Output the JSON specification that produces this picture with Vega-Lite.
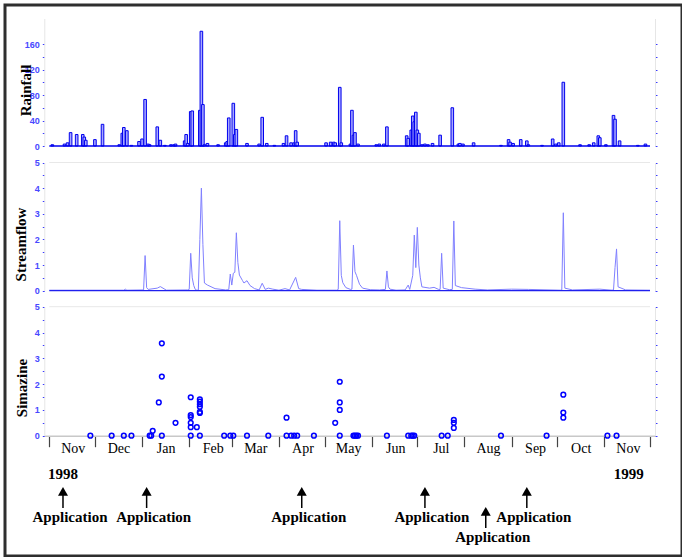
{
  "$schema": "https://vega.github.io/schema/vega-lite/v6.json",
  "width": 677,
  "height": 551,
  "autosize": {"type": "none"},
  "padding": {"left": 5, "top": 5, "right": 0, "bottom": 1},
  "background": "white",
  "config": {
    "view": {"stroke": "#2e2e2e", "strokeWidth": 3},
    "axis": {"grid": false, "labelFlush": false, "labelOverlap": false}
  },
  "datasets": {
    "span": [{"date": "1998-11-01", "date2": "1999-12-01"}],
    "rain": [
      {"date": "1998-11-03", "rain": 2}, {"date": "1998-11-11", "rain": 3}, {"date": "1998-11-13", "rain": 5},
      {"date": "1998-11-15", "rain": 21}, {"date": "1998-11-19", "rain": 18}, {"date": "1998-11-23", "rain": 18},
      {"date": "1998-11-24", "rain": 14}, {"date": "1998-11-25", "rain": 9}, {"date": "1998-12-01", "rain": 10},
      {"date": "1998-12-06", "rain": 34}, {"date": "1998-12-17", "rain": 2}, {"date": "1998-12-19", "rain": 20},
      {"date": "1998-12-20", "rain": 29}, {"date": "1998-12-22", "rain": 24}, {"date": "1998-12-25", "rain": 1},
      {"date": "1998-12-30", "rain": 7}, {"date": "1999-01-01", "rain": 11}, {"date": "1999-01-03", "rain": 73},
      {"date": "1999-01-05", "rain": 3}, {"date": "1999-01-06", "rain": 2}, {"date": "1999-01-11", "rain": 30},
      {"date": "1999-01-13", "rain": 9}, {"date": "1999-01-16", "rain": 1}, {"date": "1999-01-20", "rain": 2},
      {"date": "1999-01-22", "rain": 2}, {"date": "1999-01-23", "rain": 3}, {"date": "1999-01-29", "rain": 8},
      {"date": "1999-01-30", "rain": 18}, {"date": "1999-01-31", "rain": 4}, {"date": "1999-02-02", "rain": 54},
      {"date": "1999-02-03", "rain": 55}, {"date": "1999-02-08", "rain": 56}, {"date": "1999-02-09", "rain": 180},
      {"date": "1999-02-10", "rain": 65}, {"date": "1999-02-11", "rain": 2}, {"date": "1999-02-13", "rain": 4},
      {"date": "1999-02-20", "rain": 2}, {"date": "1999-02-25", "rain": 5}, {"date": "1999-02-26", "rain": 7},
      {"date": "1999-02-27", "rain": 44}, {"date": "1999-03-02", "rain": 67}, {"date": "1999-03-03", "rain": 18},
      {"date": "1999-03-04", "rain": 26}, {"date": "1999-03-11", "rain": 4}, {"date": "1999-03-19", "rain": 3},
      {"date": "1999-03-21", "rain": 45}, {"date": "1999-03-24", "rain": 4}, {"date": "1999-03-29", "rain": 1},
      {"date": "1999-04-04", "rain": 4}, {"date": "1999-04-06", "rain": 16}, {"date": "1999-04-09", "rain": 5},
      {"date": "1999-04-11", "rain": 5}, {"date": "1999-04-12", "rain": 24}, {"date": "1999-04-13", "rain": 6},
      {"date": "1999-05-02", "rain": 5}, {"date": "1999-05-05", "rain": 6}, {"date": "1999-05-07", "rain": 6},
      {"date": "1999-05-08", "rain": 5}, {"date": "1999-05-11", "rain": 92}, {"date": "1999-05-12", "rain": 5},
      {"date": "1999-05-18", "rain": 3}, {"date": "1999-05-19", "rain": 56}, {"date": "1999-05-20", "rain": 17},
      {"date": "1999-05-21", "rain": 21}, {"date": "1999-05-23", "rain": 3}, {"date": "1999-06-04", "rain": 2},
      {"date": "1999-06-06", "rain": 3}, {"date": "1999-06-09", "rain": 3}, {"date": "1999-06-11", "rain": 30},
      {"date": "1999-06-24", "rain": 16}, {"date": "1999-06-25", "rain": 12}, {"date": "1999-06-27", "rain": 25},
      {"date": "1999-06-28", "rain": 47}, {"date": "1999-06-29", "rain": 38}, {"date": "1999-06-30", "rain": 53},
      {"date": "1999-07-01", "rain": 25}, {"date": "1999-07-02", "rain": 20}, {"date": "1999-07-04", "rain": 2},
      {"date": "1999-07-06", "rain": 3}, {"date": "1999-07-08", "rain": 2}, {"date": "1999-07-11", "rain": 4},
      {"date": "1999-07-16", "rain": 17}, {"date": "1999-07-24", "rain": 60}, {"date": "1999-07-28", "rain": 3},
      {"date": "1999-07-29", "rain": 4}, {"date": "1999-07-31", "rain": 3}, {"date": "1999-08-07", "rain": 5},
      {"date": "1999-08-25", "rain": 1}, {"date": "1999-08-30", "rain": 10}, {"date": "1999-08-31", "rain": 6},
      {"date": "1999-09-02", "rain": 4}, {"date": "1999-09-07", "rain": 10}, {"date": "1999-09-11", "rain": 8},
      {"date": "1999-09-12", "rain": 2}, {"date": "1999-09-21", "rain": 1}, {"date": "1999-09-28", "rain": 11},
      {"date": "1999-09-30", "rain": 3}, {"date": "1999-10-02", "rain": 5}, {"date": "1999-10-05", "rain": 100},
      {"date": "1999-10-16", "rain": 2}, {"date": "1999-10-22", "rain": 2}, {"date": "1999-10-25", "rain": 5},
      {"date": "1999-10-28", "rain": 16}, {"date": "1999-10-29", "rain": 13}, {"date": "1999-11-02", "rain": 2},
      {"date": "1999-11-07", "rain": 48}, {"date": "1999-11-08", "rain": 42}, {"date": "1999-11-11", "rain": 8},
      {"date": "1999-11-23", "rain": 1}, {"date": "1999-11-28", "rain": 3}
    ],
    "flow": [
      {"date": "1998-11-01", "flow": 0.02}, {"date": "1998-12-20", "flow": 0.02}, {"date": "1998-12-21", "flow": 0.06},
      {"date": "1998-12-22", "flow": 0.02}, {"date": "1999-01-02", "flow": 0.03}, {"date": "1999-01-03", "flow": 1.37},
      {"date": "1999-01-04", "flow": 0.12}, {"date": "1999-01-05", "flow": 0.05}, {"date": "1999-01-11", "flow": 0.1},
      {"date": "1999-01-13", "flow": 0.16}, {"date": "1999-01-17", "flow": 0.02}, {"date": "1999-01-31", "flow": 0.03},
      {"date": "1999-02-01", "flow": 0.05}, {"date": "1999-02-02", "flow": 1.46}, {"date": "1999-02-03", "flow": 0.5},
      {"date": "1999-02-04", "flow": 0.2}, {"date": "1999-02-05", "flow": 0.05}, {"date": "1999-02-06", "flow": 0.02},
      {"date": "1999-02-07", "flow": 0.02}, {"date": "1999-02-08", "flow": 2.0}, {"date": "1999-02-09", "flow": 4.0},
      {"date": "1999-02-10", "flow": 1.8}, {"date": "1999-02-11", "flow": 0.3}, {"date": "1999-02-13", "flow": 0.22},
      {"date": "1999-02-18", "flow": 0.08}, {"date": "1999-02-25", "flow": 0.03}, {"date": "1999-02-27", "flow": 0.04},
      {"date": "1999-02-28", "flow": 0.65}, {"date": "1999-03-01", "flow": 0.22}, {"date": "1999-03-02", "flow": 0.68},
      {"date": "1999-03-03", "flow": 0.72}, {"date": "1999-03-04", "flow": 2.26}, {"date": "1999-03-05", "flow": 1.1},
      {"date": "1999-03-06", "flow": 0.61}, {"date": "1999-03-08", "flow": 0.4}, {"date": "1999-03-09", "flow": 0.3},
      {"date": "1999-03-11", "flow": 0.39}, {"date": "1999-03-13", "flow": 0.2}, {"date": "1999-03-16", "flow": 0.08},
      {"date": "1999-03-19", "flow": 0.03}, {"date": "1999-03-21", "flow": 0.29}, {"date": "1999-03-23", "flow": 0.05},
      {"date": "1999-03-25", "flow": 0.1}, {"date": "1999-03-28", "flow": 0.06}, {"date": "1999-04-01", "flow": 0.02},
      {"date": "1999-04-05", "flow": 0.08}, {"date": "1999-04-08", "flow": 0.03}, {"date": "1999-04-12", "flow": 0.52},
      {"date": "1999-04-14", "flow": 0.08}, {"date": "1999-04-16", "flow": 0.05}, {"date": "1999-04-26", "flow": 0.02},
      {"date": "1999-05-09", "flow": 0.02}, {"date": "1999-05-10", "flow": 0.05}, {"date": "1999-05-11", "flow": 2.73},
      {"date": "1999-05-12", "flow": 0.6}, {"date": "1999-05-13", "flow": 0.31}, {"date": "1999-05-15", "flow": 0.12},
      {"date": "1999-05-18", "flow": 0.05}, {"date": "1999-05-19", "flow": 0.06}, {"date": "1999-05-20", "flow": 1.78},
      {"date": "1999-05-21", "flow": 0.74}, {"date": "1999-05-22", "flow": 0.6}, {"date": "1999-05-24", "flow": 0.25},
      {"date": "1999-05-26", "flow": 0.1}, {"date": "1999-05-31", "flow": 0.04}, {"date": "1999-06-06", "flow": 0.03},
      {"date": "1999-06-10", "flow": 0.05}, {"date": "1999-06-11", "flow": 0.77}, {"date": "1999-06-12", "flow": 0.15},
      {"date": "1999-06-13", "flow": 0.06}, {"date": "1999-06-17", "flow": 0.02}, {"date": "1999-06-23", "flow": 0.03},
      {"date": "1999-06-25", "flow": 0.22}, {"date": "1999-06-26", "flow": 0.05}, {"date": "1999-06-28", "flow": 0.6},
      {"date": "1999-06-29", "flow": 2.17}, {"date": "1999-06-30", "flow": 0.9}, {"date": "1999-07-01", "flow": 2.47},
      {"date": "1999-07-02", "flow": 1.0}, {"date": "1999-07-03", "flow": 0.5}, {"date": "1999-07-04", "flow": 0.15},
      {"date": "1999-07-09", "flow": 0.1}, {"date": "1999-07-12", "flow": 0.13}, {"date": "1999-07-15", "flow": 0.05},
      {"date": "1999-07-16", "flow": 0.05}, {"date": "1999-07-17", "flow": 1.46}, {"date": "1999-07-18", "flow": 0.1},
      {"date": "1999-07-22", "flow": 0.04}, {"date": "1999-07-24", "flow": 0.05}, {"date": "1999-07-25", "flow": 2.72},
      {"date": "1999-07-26", "flow": 0.2}, {"date": "1999-07-30", "flow": 0.12}, {"date": "1999-08-08", "flow": 0.06},
      {"date": "1999-08-16", "flow": 0.03}, {"date": "1999-09-01", "flow": 0.06}, {"date": "1999-09-12", "flow": 0.05},
      {"date": "1999-10-03", "flow": 0.02}, {"date": "1999-10-04", "flow": 0.03}, {"date": "1999-10-05", "flow": 3.04},
      {"date": "1999-10-06", "flow": 0.1}, {"date": "1999-10-11", "flow": 0.03}, {"date": "1999-10-29", "flow": 0.06},
      {"date": "1999-11-06", "flow": 0.02}, {"date": "1999-11-07", "flow": 0.03}, {"date": "1999-11-08", "flow": 0.9},
      {"date": "1999-11-09", "flow": 1.63}, {"date": "1999-11-10", "flow": 0.15}, {"date": "1999-11-15", "flow": 0.03},
      {"date": "1999-12-01", "flow": 0.02}
    ],
    "sim": [
      {"date": "1998-11-28", "simazine": 0}, {"date": "1998-12-12", "simazine": 0}, {"date": "1998-12-20", "simazine": 0},
      {"date": "1998-12-25", "simazine": 0}, {"date": "1999-01-06", "simazine": 0}, {"date": "1999-01-07", "simazine": 0},
      {"date": "1999-01-08", "simazine": 0.19}, {"date": "1999-01-12", "simazine": 1.29}, {"date": "1999-01-14", "simazine": 3.58},
      {"date": "1999-01-14", "simazine": 2.29}, {"date": "1999-01-14", "simazine": 0}, {"date": "1999-01-23", "simazine": 0.5},
      {"date": "1999-02-02", "simazine": 1.49}, {"date": "1999-02-02", "simazine": 0.8}, {"date": "1999-02-02", "simazine": 0.72},
      {"date": "1999-02-02", "simazine": 0.5}, {"date": "1999-02-02", "simazine": 0.33}, {"date": "1999-02-02", "simazine": 0},
      {"date": "1999-02-06", "simazine": 0.33}, {"date": "1999-02-08", "simazine": 1.41}, {"date": "1999-02-08", "simazine": 1.32},
      {"date": "1999-02-08", "simazine": 1.22}, {"date": "1999-02-08", "simazine": 1.12}, {"date": "1999-02-08", "simazine": 0.92},
      {"date": "1999-02-08", "simazine": 0.88}, {"date": "1999-02-08", "simazine": 0}, {"date": "1999-02-24", "simazine": 0},
      {"date": "1999-02-28", "simazine": 0}, {"date": "1999-03-02", "simazine": 0}, {"date": "1999-03-11", "simazine": 0},
      {"date": "1999-03-25", "simazine": 0}, {"date": "1999-04-06", "simazine": 0.7}, {"date": "1999-04-06", "simazine": 0},
      {"date": "1999-04-09", "simazine": 0}, {"date": "1999-04-11", "simazine": 0}, {"date": "1999-04-13", "simazine": 0},
      {"date": "1999-04-24", "simazine": 0}, {"date": "1999-05-08", "simazine": 0.5}, {"date": "1999-05-11", "simazine": 2.09},
      {"date": "1999-05-11", "simazine": 1.29}, {"date": "1999-05-11", "simazine": 1.0}, {"date": "1999-05-11", "simazine": 0},
      {"date": "1999-05-20", "simazine": 0}, {"date": "1999-05-21", "simazine": 0}, {"date": "1999-05-22", "simazine": 0},
      {"date": "1999-05-23", "simazine": 0}, {"date": "1999-06-11", "simazine": 0}, {"date": "1999-06-25", "simazine": 0},
      {"date": "1999-06-27", "simazine": 0}, {"date": "1999-06-28", "simazine": 0}, {"date": "1999-06-29", "simazine": 0},
      {"date": "1999-07-17", "simazine": 0}, {"date": "1999-07-21", "simazine": 0}, {"date": "1999-07-25", "simazine": 0.61},
      {"date": "1999-07-25", "simazine": 0.5}, {"date": "1999-07-25", "simazine": 0.3}, {"date": "1999-08-25", "simazine": 0},
      {"date": "1999-09-24", "simazine": 0}, {"date": "1999-10-05", "simazine": 1.59}, {"date": "1999-10-05", "simazine": 0.9},
      {"date": "1999-10-05", "simazine": 0.7}, {"date": "1999-11-03", "simazine": 0}, {"date": "1999-11-09", "simazine": 0}
    ],
    "apps": [
      {"date": "1998-11-10", "label": "Application", "tier": 0},
      {"date": "1999-01-04", "label": "Application", "tier": 0},
      {"date": "1999-04-16", "label": "Application", "tier": 0},
      {"date": "1999-07-06", "label": "Application", "tier": 0},
      {"date": "1999-08-15", "label": "Application", "tier": 1},
      {"date": "1999-09-11", "label": "Application", "tier": 0}
    ],
    "years": [
      {"date": "1998-11-10", "label": "1998", "tier": 0},
      {"date": "1999-11-17", "label": "1999", "tier": 0}
    ]
  },
  "encoding": {
    "x": {
      "field": "date",
      "type": "temporal",
      "scale": {
        "type": "utc",
        "domain": [{"year": 1998, "month": 11, "date": 1, "utc": true}, {"year": 1999, "month": 12, "date": 1, "utc": true}],
        "range": [39.3, 650],
        "nice": false
      },
      "axis": {
        "orient": "bottom",
        "offset": -120.3,
        "title": null,
        "values": [
          {"year": 1998, "month": 11, "date": 1, "utc": true}, {"year": 1998, "month": 12, "date": 1, "utc": true},
          {"year": 1999, "month": 1, "date": 1, "utc": true}, {"year": 1999, "month": 2, "date": 1, "utc": true},
          {"year": 1999, "month": 3, "date": 1, "utc": true}, {"year": 1999, "month": 4, "date": 1, "utc": true},
          {"year": 1999, "month": 5, "date": 1, "utc": true}, {"year": 1999, "month": 6, "date": 1, "utc": true},
          {"year": 1999, "month": 7, "date": 1, "utc": true}, {"year": 1999, "month": 8, "date": 1, "utc": true},
          {"year": 1999, "month": 9, "date": 1, "utc": true}, {"year": 1999, "month": 10, "date": 1, "utc": true},
          {"year": 1999, "month": 11, "date": 1, "utc": true}, {"year": 1999, "month": 12, "date": 1, "utc": true}
        ],
        "labelExpr": "(utcmonth(datum.value) == 11 && utcyear(datum.value) == 1999) ? '' : utcFormat(datum.value, '%b')",
        "labelOffset": 23.5,
        "labelFont": "Liberation Serif",
        "labelFontSize": 14,
        "labelColor": "#000000",
        "labelPadding": -5,
        "tickSize": 11,
        "tickColor": "#444444",
        "tickWidth": 1.2,
        "domainColor": "#c8c8c8",
        "domainWidth": 1.5
      }
    }
  },
  "layer": [
    {
      "layer": [
        {
          "data": {"name": "rain"},
          "mark": {"type": "bar", "size": 2.6, "fill": "#a8a8ff", "stroke": "#0000ee", "strokeWidth": 1},
          "encoding": {
            "y": {
              "field": "rain", "type": "quantitative",
              "scale": {"domain": [0, 200], "range": [141, 13.5], "nice": false},
              "axis": {
                "orient": "left", "offset": -39.3, "title": "Rainfall",
                "titleFont": "Liberation Serif", "titleFontSize": 15, "titleFontWeight": "bold", "titleColor": "#000000",
                "titleX": -19.3, "titleY": 85, "titleBaseline": "middle", "titleAngle": -90,
                "values": [0, 20, 40, 60, 80, 100, 120, 140, 160],
                "labelExpr": "datum.value % 40 == 0 ? format(datum.value, 'd') : ''",
                "labelFont": "Liberation Sans", "labelFontSize": 9, "labelFontWeight": "bold", "labelColor": "#4848ff", "labelPadding": 3,
                "tickSize": 2, "tickColor": "#3a3aff", "domainColor": "#e6e6e6"
              }
            }
          }
        },
        {
          "data": {"name": "span"},
          "mark": {"type": "rule", "color": "#0000ee", "strokeWidth": 1.5},
          "encoding": {
            "x2": {"field": "date2"},
            "y": {
              "datum": 0, "type": "quantitative",
              "scale": {"domain": [0, 200], "range": [141, 13.5], "nice": false},
              "axis": {
                "orient": "right", "offset": -27, "title": null, "labels": false,
                "values": [0, 20, 40, 60, 80, 100, 120, 140, 160],
                "tickSize": 2, "tickColor": "#3a3aff", "domainColor": "#e6e6e6"
              }
            }
          }
        }
      ],
      "resolve": {"scale": {"y": "shared"}, "axis": {"y": "independent"}}
    },
    {
      "layer": [
        {
          "data": {"name": "flow"},
          "mark": {"type": "line", "color": "#8080ff", "strokeWidth": 1},
          "encoding": {
            "y": {
              "field": "flow", "type": "quantitative",
              "scale": {"domain": [0, 5], "range": [285.7, 157.5], "nice": false},
              "axis": {
                "orient": "left", "offset": -39.3, "title": "Streamflow",
                "titleFont": "Liberation Serif", "titleFontSize": 15, "titleFontWeight": "bold", "titleColor": "#000000",
                "titleX": -24.3, "titleY": 239, "titleBaseline": "middle", "titleAngle": -90,
                "values": [0, 0.5, 1, 1.5, 2, 2.5, 3, 3.5, 4, 4.5, 5],
                "labelExpr": "datum.value % 1 == 0 ? format(datum.value, 'd') : ''",
                "labelFont": "Liberation Sans", "labelFontSize": 9, "labelFontWeight": "bold", "labelColor": "#4848ff", "labelPadding": 3,
                "tickSize": 2, "tickColor": "#3a3aff", "domainColor": "#e6e6e6"
              }
            }
          }
        },
        {
          "data": {"name": "span"},
          "mark": {"type": "rule", "color": "#2020ee", "strokeWidth": 1.2},
          "encoding": {
            "x2": {"field": "date2"},
            "y": {
              "datum": 0, "type": "quantitative",
              "scale": {"domain": [0, 5], "range": [285.7, 157.5], "nice": false},
              "axis": {
                "orient": "right", "offset": -27, "title": null, "labels": false,
                "values": [0, 0.5, 1, 1.5, 2, 2.5, 3, 3.5, 4, 4.5, 5],
                "tickSize": 2, "tickColor": "#3a3aff", "domainColor": "#e6e6e6"
              }
            }
          }
        },
        {
          "data": {"name": "span"},
          "mark": {"type": "rule", "color": "#e8e8e8", "strokeWidth": 1},
          "encoding": {
            "x2": {"field": "date2"},
            "y": {"datum": 5, "type": "quantitative", "scale": {"domain": [0, 5], "range": [285.7, 157.5], "nice": false}, "axis": null}
          }
        }
      ],
      "resolve": {"scale": {"y": "shared"}, "axis": {"y": "independent"}}
    },
    {
      "layer": [
        {
          "data": {"name": "span"},
          "mark": {"type": "rule", "color": "#e8e8e8", "strokeWidth": 1},
          "encoding": {
            "x2": {"field": "date2"},
            "y": {
              "datum": 5, "type": "quantitative",
              "scale": {"domain": [0, 5], "range": [430.7, 301.7], "nice": false},
              "axis": {
                "orient": "right", "offset": -27, "title": null, "labels": false,
                "values": [0, 0.5, 1, 1.5, 2, 2.5, 3, 3.5, 4, 4.5, 5],
                "tickSize": 2, "tickColor": "#3a3aff", "domainColor": "#e6e6e6"
              }
            }
          }
        },
        {
          "data": {"name": "sim"},
          "mark": {"type": "point", "filled": false, "color": "#0000ff", "size": 22, "strokeWidth": 1.5, "opacity": 1},
          "encoding": {
            "y": {
              "field": "simazine", "type": "quantitative",
              "scale": {"domain": [0, 5], "range": [430.7, 301.7], "nice": false},
              "axis": {
                "orient": "left", "offset": -39.3, "title": "Simazine",
                "titleFont": "Liberation Serif", "titleFontSize": 15, "titleFontWeight": "bold", "titleColor": "#000000",
                "titleX": -23.3, "titleY": 382.5, "titleBaseline": "middle", "titleAngle": -90,
                "values": [0, 0.5, 1, 1.5, 2, 2.5, 3, 3.5, 4, 4.5, 5],
                "labelExpr": "datum.value % 1 == 0 ? format(datum.value, 'd') : ''",
                "labelFont": "Liberation Sans", "labelFontSize": 9, "labelFontWeight": "bold", "labelColor": "#4848ff", "labelPadding": 3,
                "tickSize": 2, "tickColor": "#3a3aff", "domainColor": "#e6e6e6"
              }
            }
          }
        }
      ],
      "resolve": {"scale": {"y": "shared"}, "axis": {"y": "independent"}}
    },
    {
      "layer": [
        {
          "data": {"name": "apps"},
          "mark": {"type": "point", "shape": "triangle-up", "filled": true, "color": "#000000", "size": 100, "yOffset": 4.3, "opacity": 1},
          "encoding": {
            "y": {"field": "tier", "type": "quantitative", "scale": {"domain": [0, 1], "range": [482, 502], "nice": false, "zero": false}, "axis": null}
          }
        },
        {
          "data": {"name": "apps"},
          "mark": {"type": "rule", "color": "#000000", "strokeWidth": 1.5, "yOffset": 8, "y2Offset": 21},
          "encoding": {
            "y": {"field": "tier", "type": "quantitative", "scale": {"domain": [0, 1], "range": [482, 502], "nice": false, "zero": false}, "axis": null},
            "y2": {"field": "tier"}
          }
        },
        {
          "data": {"name": "apps"},
          "mark": {"type": "text", "font": "Liberation Serif", "fontSize": 15, "fontWeight": "bold", "color": "#000000", "baseline": "alphabetic", "align": "center", "dx": 7, "dy": 35},
          "encoding": {
            "y": {"field": "tier", "type": "quantitative", "scale": {"domain": [0, 1], "range": [482, 502], "nice": false, "zero": false}, "axis": null},
            "text": {"field": "label"}
          }
        },
        {
          "data": {"name": "years"},
          "mark": {"type": "text", "font": "Liberation Serif", "fontSize": 15, "fontWeight": "bold", "color": "#000000", "baseline": "alphabetic", "align": "center", "dy": -8},
          "encoding": {
            "y": {"field": "tier", "type": "quantitative", "scale": {"domain": [0, 1], "range": [482, 502], "nice": false, "zero": false}, "axis": null},
            "text": {"field": "label"}
          }
        }
      ],
      "resolve": {"scale": {"y": "shared"}, "axis": {"y": "independent"}}
    }
  ],
  "resolve": {"scale": {"y": "independent"}, "axis": {"y": "independent"}}
}
